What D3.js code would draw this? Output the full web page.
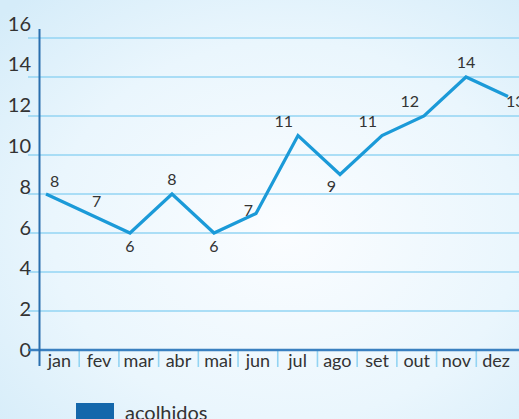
<!DOCTYPE html>
<html>
<head>
<meta charset="utf-8">
<script src="https://cdn.jsdelivr.net/npm/d3@7"></script>
<style>
  html, body { margin: 0; padding: 0; background: #fff; }
  svg { display: block; font-family: "Lato", "Noto Sans", sans-serif; }
</style>
</head>
<body>
<div id="chart"></div>
<script>
// chart data
const months = ['jan', 'fev', 'mar', 'abr', 'mai', 'jun', 'jul', 'ago', 'set', 'out', 'nov', 'dez'];
const acolhidos = [8, 7, 6, 8, 6, 7, 11, 9, 11, 12, 14, 13];
const yTicks = [0, 2, 4, 6, 8, 10, 12, 14, 16];
// where each value label sits relative to its point
const labelSide = ['ne', 'ne', 's', 'n', 's', 'w', 'nw', 'sw', 'nw', 'nw', 'n', 'e'];

const width = 519, height = 419;

const svg = d3.select('#chart').append('svg')
    .attr('width', width)
    .attr('height', height);

// background gradient
const defs = svg.append('defs');
const grad = defs.append('radialGradient')
    .attr('id', 'bg')
    .attr('cx', '55%').attr('cy', '55%').attr('r', '75%');
grad.append('stop').attr('offset', '0%').attr('stop-color', '#fbfdff');
grad.append('stop').attr('offset', '60%').attr('stop-color', '#eaf6fd');
grad.append('stop').attr('offset', '100%').attr('stop-color', '#d5ecf9');

svg.append('rect')
    .attr('width', width).attr('height', height)
    .attr('fill', 'url(#bg)');

// scales
const y = d3.scaleLinear().domain([0, 16]).range([350, 38]);
const x = d3.scalePoint().domain(months).range([46, 508]);
const band = d3.scaleBand().domain(months).range([39.5, 516]);

// grid lines
svg.append('g')
    .selectAll('line')
    .data(yTicks.filter(d => d > 0))
    .enter().append('line')
    .attr('x1', 28).attr('x2', width)
    .attr('y1', d => y(d)).attr('y2', d => y(d))
    .attr('stroke', '#93d4f3')
    .attr('stroke-width', 1.6);

// y tick labels
svg.append('g')
    .selectAll('text')
    .data(yTicks)
    .enter().append('text')
    .attr('x', 31)
    .attr('y', d => y(d) - d * 0.9)
    .attr('dy', '0.35em')
    .attr('text-anchor', 'end')
    .attr('font-size', 20)
    .attr('fill', '#333')
    .text(d => d);

// month separators
svg.append('g')
    .selectAll('line')
    .data(months.slice(1))
    .enter().append('line')
    .attr('x1', d => band(d)).attr('x2', d => band(d))
    .attr('y1', 351).attr('y2', 367)
    .attr('stroke', '#93d4f3')
    .attr('stroke-width', 1.6);

// month labels
svg.append('g')
    .selectAll('text')
    .data(months)
    .enter().append('text')
    .attr('x', d => band(d) + band.bandwidth() / 2)
    .attr('y', 367)
    .attr('text-anchor', 'middle')
    .attr('font-size', 18)
    .attr('fill', '#333')
    .text(d => d);

// axes
svg.append('line')
    .attr('x1', 28).attr('x2', width)
    .attr('y1', y(0)).attr('y2', y(0))
    .attr('stroke', '#3a80c0')
    .attr('stroke-width', 2.4);

svg.append('line')
    .attr('x1', 39.5).attr('x2', 39.5)
    .attr('y1', 29).attr('y2', 366)
    .attr('stroke', '#2a6fae')
    .attr('stroke-width', 2);

// line
const line = d3.line()
    .x((d, i) => x(months[i]))
    .y(d => y(d));

svg.append('path')
    .datum(acolhidos)
    .attr('d', line)
    .attr('fill', 'none')
    .attr('stroke', '#1b9ad8')
    .attr('stroke-width', 3.2)
    .attr('stroke-linejoin', 'miter');

// value labels
const offsets = {
    n: [0, -9, 'middle'],
    s: [0, 19, 'middle'],
    ne: [4, -7, 'start'],
    nw: [-5, -9, 'end'],
    sw: [-4, 17, 'end'],
    w: [-3, 2, 'end'],
    e: [-2, 10, 'start']
};

svg.append('g')
    .selectAll('text')
    .data(acolhidos)
    .enter().append('text')
    .attr('x', (d, i) => x(months[i]) + offsets[labelSide[i]][0])
    .attr('y', (d, i) => y(d) + offsets[labelSide[i]][1])
    .attr('text-anchor', (d, i) => offsets[labelSide[i]][2])
    .attr('font-size', 16)
    .attr('fill', '#333')
    .text(d => d);

// legend
svg.append('rect')
    .attr('x', 76).attr('y', 403)
    .attr('width', 38).attr('height', 20)
    .attr('fill', '#1467ab');

svg.append('text')
    .attr('x', 125).attr('y', 420)
    .attr('font-size', 20)
    .attr('fill', '#333')
    .text('acolhidos');
</script>
</body>
</html>
